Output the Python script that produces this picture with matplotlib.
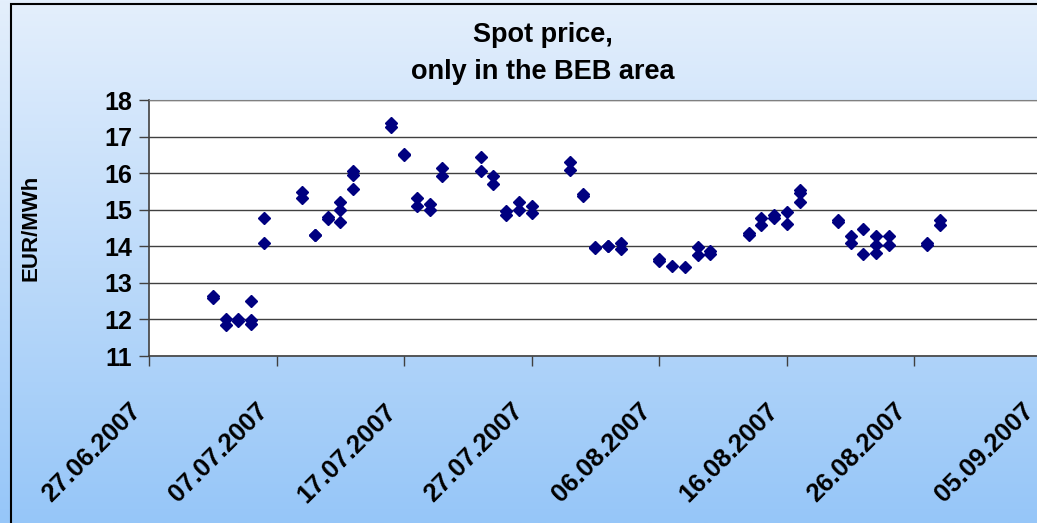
#!/usr/bin/env python3
"""Spot price scatter, only in the BEB area (Jul-Aug 2007)."""

from datetime import datetime

import matplotlib
matplotlib.use('Agg')
import matplotlib.pyplot as plt
import matplotlib.dates as mdates
import matplotlib.transforms as mtransforms
import numpy as np
from matplotlib.patches import Rectangle

plt.rcParams['font.family'] = ['Liberation Sans', 'DejaVu Sans']

# trading days and the prices quoted on each of them (EUR/MWh)
day_labels = [
    '02.07.2007', '03.07.2007', '04.07.2007', '05.07.2007', '06.07.2007',
    '09.07.2007', '10.07.2007', '11.07.2007', '12.07.2007', '13.07.2007',
    '16.07.2007', '17.07.2007', '18.07.2007', '19.07.2007', '20.07.2007',
    '23.07.2007', '24.07.2007', '25.07.2007', '26.07.2007', '27.07.2007',
    '30.07.2007', '31.07.2007', '01.08.2007', '02.08.2007', '03.08.2007',
    '06.08.2007', '07.08.2007', '08.08.2007', '09.08.2007', '10.08.2007',
    '13.08.2007', '14.08.2007', '15.08.2007', '16.08.2007', '17.08.2007',
    '20.08.2007', '21.08.2007', '22.08.2007', '23.08.2007', '24.08.2007',
    '27.08.2007', '28.08.2007',
]
day_prices = [
    [12.65, 12.58], [12.00, 11.85], [12.00, 11.97], [12.51, 11.98, 11.88], [14.78, 14.08],
    [15.48, 15.31], [14.30, 14.32], [14.80, 14.75], [15.22, 14.98, 14.67], [16.06, 15.94, 15.56],
    [17.38, 17.25], [16.53, 16.49], [15.33, 15.10], [15.15, 14.98], [16.15, 15.92],
    [16.43, 16.06], [15.91, 15.70], [14.97, 14.86], [15.21, 14.98], [15.09, 14.90],
    [16.30, 16.09], [15.44, 15.38], [13.99, 13.95], [14.02, 14.00], [14.08, 13.93],
    [13.66, 13.60], [13.47], [13.43], [13.97, 13.75], [13.87, 13.78],
    [14.37, 14.31], [14.78, 14.58], [14.86, 14.76], [14.94, 14.62], [15.55, 15.45, 15.20],
    [14.72, 14.66], [14.29, 14.08], [14.48, 13.78], [14.27, 14.03, 13.81], [14.28, 14.04],
    [14.08, 14.03], [14.72, 14.58],
]

tick_labels = ['27.06.2007', '07.07.2007', '17.07.2007', '27.07.2007',
               '06.08.2007', '16.08.2007', '26.08.2007', '05.09.2007']
y_ticks = [11, 12, 13, 14, 15, 16, 17, 18]


def to_date(s):
    return datetime.strptime(s, '%d.%m.%Y')


# flatten into x / y pairs
xs, ys = [], []
for lab, prices in zip(day_labels, day_prices):
    for p in prices:
        xs.append(to_date(lab))
        ys.append(p)

W, H = 1037, 523
fig = plt.figure(figsize=(W / 100, H / 100), dpi=100)

# gradient background of the whole chart area
bg = fig.add_axes([0, 0, 1, 1], zorder=-10)
top_c = np.array([0xE4, 0xEF, 0xFC]) / 255
bot_c = np.array([0x96, 0xC6, 0xF8]) / 255
t = np.linspace(0, 1, 256)[:, None]
grad = (top_c[None, :] * (1 - t) + bot_c[None, :] * t)[:, None, :]
bg.imshow(grad, aspect='auto', extent=[0, 1, 0, 1])
bg.set_xlim(0, 1)
bg.set_ylim(0, 1)
bg.axis('off')
fig.patches.append(Rectangle((11 / W, -0.1), 1.2, 1 - 4 / H + 0.1,
                             transform=fig.transFigure, fill=False,
                             edgecolor='black', lw=1.5, zorder=5))

# plot area (in pixels of the picture)
x0, x1 = 149, 1042
y0, y1 = 100, 356
ax = fig.add_axes([x0 / W, (H - y1) / H, (x1 - x0) / W, (y1 - y0) / H])
ax.set_facecolor('white')

ax.plot(xs, ys, linestyle='none', marker='D', markersize=6.5,
        color='#000080', zorder=3)

ax.set_xlim(to_date(tick_labels[0]), to_date(tick_labels[-1]))
ax.set_ylim(11, 18)
ax.set_yticks(y_ticks)
ax.set_yticklabels([str(v) for v in y_ticks], fontsize=18, fontweight='bold')
ax.set_xticks([mdates.date2num(to_date(s)) for s in tick_labels])
ax.set_xticklabels(tick_labels, fontsize=18.5, fontweight='bold',
                   rotation=45, ha='right', va='center', rotation_mode='anchor')
ax.tick_params(axis='both', direction='out', length=7, width=1, color='#404040')
ax.tick_params(axis='x', pad=30)
ax.tick_params(axis='y', pad=5)

# nudge the slanted date labels a bit to the left, like the original
shift = mtransforms.ScaledTranslation(-12 / 100, 0, fig.dpi_scale_trans)
for lab in ax.get_xticklabels():
    lab.set_transform(lab.get_transform() + shift)

ax.grid(True, axis='y', color='#404040', linewidth=1)
ax.set_axisbelow(True)
for side in ['left', 'bottom']:
    ax.spines[side].set_color('#404040')
    ax.spines[side].set_linewidth(1.2)
ax.spines['top'].set_color('#808080')
ax.spines['right'].set_visible(False)

ax.set_ylabel('EUR/MWh', fontsize=16, fontweight='bold')
ax.yaxis.set_label_coords((42 - x0) / (x1 - x0), 0.5)

title_x = 543 / W
fig.text(title_x, 1 - 35 / H, 'Spot price,', ha='center', va='center',
         fontsize=19.5, fontweight='bold')
fig.text(title_x, 1 - 72 / H, 'only in the BEB area', ha='center', va='center',
         fontsize=19.5, fontweight='bold')

plt.savefig('out.png', dpi=100)
